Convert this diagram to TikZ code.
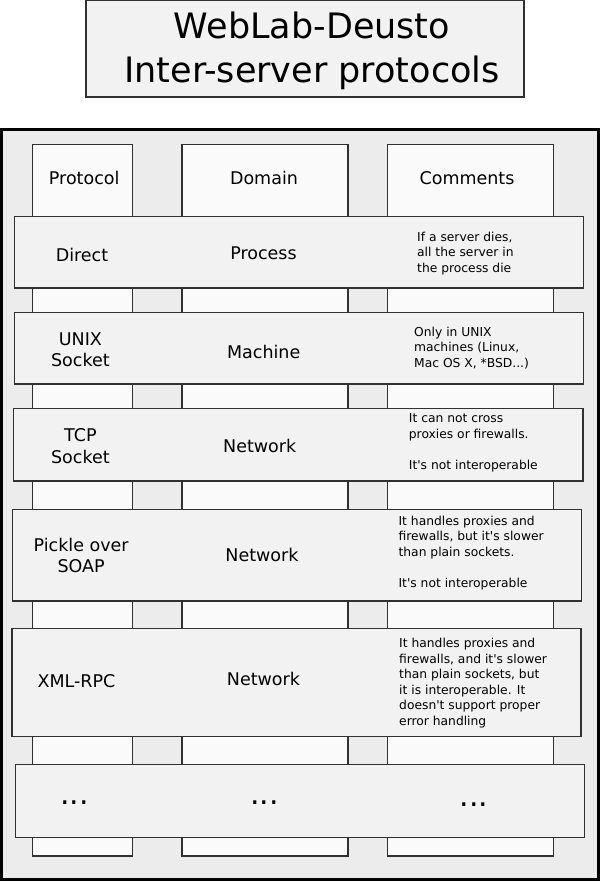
\documentclass[tikz,border=0pt]{standalone}
\usepackage{fontspec}
\setmainfont{DejaVu Sans}[Ligatures=TeXOff]
\definecolor{outerfill}{HTML}{ECECEC}
\definecolor{colfill}{HTML}{FAFAFA}
\definecolor{rowfill}{HTML}{F2F2F2}
\definecolor{edge}{HTML}{303030}
\begin{document}
\begin{tikzpicture}[x=1pt,y=-1pt,
  titlebox/.style={draw=edge,line width=1.1pt,fill=rowfill,inner sep=0pt},
  frame/.style={draw=black,line width=3pt,fill=outerfill,inner sep=0pt},
  colbox/.style={draw=edge,line width=1.3pt,fill=colfill,inner sep=0pt},
  rowbox/.style={draw=edge,line width=1.2pt,fill=rowfill,inner sep=0pt},
  big/.style={inner sep=0pt,anchor=base,align=center,font=\fontsize{17.5}{21.7}\selectfont},
  note/.style={inner sep=0pt,anchor=base west,align=left,font=\fontsize{12.3}{15.5}\selectfont},
  dots/.style={inner sep=0pt,anchor=base,font=\fontsize{30}{36}\selectfont},
  titletext/.style={inner sep=0pt,anchor=base,align=center,font=\fontsize{35}{44}\selectfont}]
\useasboundingbox (0,0) rectangle (600,881);
% title
\node[titlebox,minimum width=438pt,minimum height=96.3pt] (title) at (305,48.85) {};
\node[titletext] (titlet) at (312,82) {WebLab-Deusto\\Inter-server protocols};
% frame
\node[frame,minimum width=597pt,minimum height=750pt] (frame) at (300,504.5) {};
% columns
\node[colbox,minimum width=100pt,minimum height=711.7pt] (colP) at (82.45,500.15) {};
\node[colbox,minimum width=166pt,minimum height=711.7pt] (colD) at (265,500.15) {};
\node[colbox,minimum width=166pt,minimum height=711.7pt] (colC) at (470.75,500.15) {};
\node[big] (hP) at (84.2,184) {Protocol};
\node[big] (hD) at (264,184) {Domain};
\node[big] (hC) at (467,184) {Comments};
% rows
\node[rowbox,minimum width=569.1pt,minimum height=71.7pt] (r1) at (299.05,252.15) {};
\node[rowbox,minimum width=569.1pt,minimum height=71.7pt] (r2) at (299.05,348.15) {};
\node[rowbox,minimum width=569.1pt,minimum height=72.7pt] (r3) at (298.35,444.65) {};
\node[rowbox,minimum width=569.1pt,minimum height=91.7pt] (r4) at (297.15,555.15) {};
\node[rowbox,minimum width=569.1pt,minimum height=108pt] (r5) at (296.45,682.3) {};
\node[rowbox,minimum width=569.1pt,minimum height=72.6pt] (r6) at (299.85,801) {};
% row 1
\node[big] (p1) at (82,261) {Direct};
\node[big] (d1) at (263.5,259) {Process};
\node[note] (c1) at (417,272.4) {If a server dies,\\all the server in\\the process die};
% row 2
\node[big] (p2) at (80.4,366.7) {UNIX\\Socket};
\node[big] (d2) at (263.7,358) {Machine};
\node[note] (c2) at (414,367) {Only in UNIX\\machines (Linux,\\Mac OS X, *BSD...)};
% row 3
\node[big] (p3) at (80.4,463.3) {TCP\\Socket};
\node[big] (d3) at (259.7,452.7) {Network};
\node[note] (c3) at (408.7,469.3) {It can not cross\\proxies or firewalls.\\[15.5pt]It's not interoperable};
% row 4
\node[big] (p4) at (81.1,572.7) {Pickle over\\SOAP};
\node[big] (d4) at (262,561.7) {Network};
\node[note] (c4) at (398.4,587.3) {It handles proxies and\\firewalls, but it's slower\\than plain sockets.\\[15.5pt]It's not interoperable};
% row 5
\node[big] (p5) at (76.5,687.3) {XML-RPC};
\node[big] (d5) at (263.5,685.7) {Network};
\node[note] (c5) at (399,725) {It handles proxies and\\firewalls, and it's slower\\than plain sockets, but\\it is interoperable. It\\doesn't support proper\\error handling};
% row 6
\node[dots] (p6) at (74.6,804) {...};
\node[dots] (d6) at (264.4,804) {...};
\node[dots] (c6) at (474,806) {...};
\end{tikzpicture}
\end{document}
